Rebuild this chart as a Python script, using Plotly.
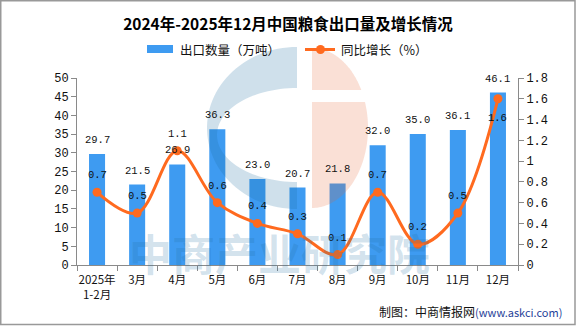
import numpy as np
import plotly.graph_objects as go

# ---- data ----
categories = ["2025年<br>1-2月", "3月", "4月", "5月", "6月", "7月",
              "8月", "9月", "10月", "11月", "12月"]
export_volume = [29.7, 21.5, 26.9, 36.3, 23.0, 20.7, 21.8, 32.0, 35.0, 36.1, 46.1]   # 万吨
yoy_growth = [0.7, 0.5, 1.1, 0.6, 0.4, 0.3, 0.1, 0.7, 0.2, 0.5, 1.6]                 # %

# ---- geometry / style ----
W, H = 576, 327
L, R, T, B = 77, 58, 78, 62
PW, PH = W - L - R, H - T - B

BAR_COLOR = "#3E9BF1"
LINE_COLOR = "#FF6A1F"
AXIS_COLOR = "#8A8A8A"
CJK = "Noto Sans CJK SC"
MONO = "Liberation Mono"


def px(x):
    """pixel x -> paper x"""
    return (x - L) / PW


def py(y):
    """pixel y (from top) -> paper y"""
    return (H - B - y) / PH


def poly_path(points):
    return "M " + " L ".join(f"{px(x):.5f},{py(y):.5f}" for x, y in points) + " Z"


def arc(cx, cy, rx, ry, t0, t1, n=60):
    t = np.radians(np.linspace(t0, t1, n))
    return list(zip(cx + rx * np.cos(t), cy - ry * np.sin(t)))


fig = go.Figure()

fig.add_trace(go.Bar(
    x=categories, y=export_volume, name="出口数量（万吨）",
    marker=dict(color=BAR_COLOR, line=dict(width=0)),
    showlegend=False,
))

fig.add_trace(go.Scatter(
    x=categories, y=yoy_growth, name="同比增长（%）", yaxis="y2",
    mode="lines+markers",
    line=dict(color=LINE_COLOR, width=3, shape="spline", smoothing=1),
    marker=dict(color=LINE_COLOR, size=9),
    showlegend=False, cliponaxis=False,
))

annotations = []

# value labels on bars
for c, v in zip(categories, export_volume):
    annotations.append(dict(
        x=c, y=v, xref="x", yref="y", text=f"{v:.1f}", showarrow=False,
        yshift=14, font=dict(family=MONO, size=10.5, color="#111"),
    ))

# value labels on the growth line (last one sits under its marker)
for i, (c, v) in enumerate(zip(categories, yoy_growth)):
    below = i == len(categories) - 1
    annotations.append(dict(
        x=c, y=v, xref="x", yref="y2", text=f"{v:.1f}", showarrow=False,
        yshift=-19 if below else 17, font=dict(family=MONO, size=10.5, color="#111"),
    ))

# legend texts
annotations += [
    dict(x=px(178), y=py(49.5), xref="paper", yref="paper", xanchor="left", yanchor="middle",
         text="出口数量（万吨）", showarrow=False, font=dict(family=CJK, size=12.5, color="#111")),
    dict(x=px(339), y=py(49.5), xref="paper", yref="paper", xanchor="left", yanchor="middle",
         text="同比增长（%）", showarrow=False, font=dict(family=CJK, size=12.5, color="#111")),
]

# watermark text
annotations.append(dict(
    x=px(279), y=py(252), xref="paper", yref="paper", xanchor="center", yanchor="middle",
    text="<b>中商产业研究院</b>", showarrow=False,
    font=dict(family=CJK, size=43, color="rgba(30,110,160,0.2)"),
))

# source note
annotations.append(dict(
    x=px(564), y=py(311), xref="paper", yref="paper", xanchor="right", yanchor="middle",
    text="制图：中商情报网<span style='font-size:11px;color:#1F3F99'>(www.askci.com)</span>",
    showarrow=False, font=dict(family=CJK, size=12, color="#111"),
))

shapes = []

# watermark logo: blue crescent + split pink half-disc
blue_pts = arc(297, 128, 90, 81, 90, 270) + arc(297, 135, 80, 47, 270, 90)
shapes.append(dict(type="path", xref="paper", yref="paper", layer="above",
                   path=poly_path(blue_pts), fillcolor="rgba(30,110,160,0.21)", line=dict(width=0)))
pcx, pcy, prx, pry = 312, 128, 56, 80
t_top = np.degrees(np.arcsin((pcy - 90) / pry))
t_bot = np.degrees(np.arcsin((pcy - 102) / pry))
pink_top = arc(pcx, pcy, prx, pry, t_top, 90) + [(pcx, 90)]
pink_bot = arc(pcx, pcy, prx, pry, -90, t_bot) + [(pcx, 102)]
for pts in (pink_top, pink_bot):
    shapes.append(dict(type="path", xref="paper", yref="paper", layer="above",
                       path=poly_path(pts), fillcolor="rgba(230,100,50,0.2)", line=dict(width=0)))

# legend swatches
shapes += [
    dict(type="rect", xref="paper", yref="paper", x0=px(147), x1=px(173), y0=py(45), y1=py(53),
         fillcolor=BAR_COLOR, line=dict(width=0)),
    dict(type="line", xref="paper", yref="paper", x0=px(305), x1=px(335), y0=py(49.5), y1=py(49.5),
         line=dict(color=LINE_COLOR, width=3)),
    dict(type="circle", xref="paper", yref="paper", x0=px(316), x1=px(325), y0=py(45), y1=py(54),
         fillcolor=LINE_COLOR, line=dict(width=0)),
]

# outer frame
shapes.append(dict(type="rect", xref="paper", yref="paper", x0=px(0.75), x1=px(575), y0=py(0.75),
                   y1=py(324.5), line=dict(color="#999", width=1.5), fillcolor="rgba(0,0,0,0)",
                   layer="above"))

axis_common = dict(
    showline=True, linecolor=AXIS_COLOR, linewidth=1,
    ticks="outside", ticklen=5, tickcolor=AXIS_COLOR, tickwidth=1,
    showgrid=False, zeroline=False,
)

fig.update_layout(
    width=W, height=H,
    margin=dict(l=L, r=R, t=T, b=B, pad=0),
    paper_bgcolor="white", plot_bgcolor="white",
    bargap=0.6,
    title=dict(text="<b>2024年-2025年12月中国粮食出口量及增长情况</b>",
               x=0.5, xanchor="center", y=1 - 25 / H, yanchor="middle",
               font=dict(family=CJK, size=15.5, color="#000")),
    xaxis=dict(type="category", range=[-0.5, 10.5], tickson="boundaries", tickangle=0,
               ticklabelstandoff=4,
               tickfont=dict(family=CJK, size=11.5, color="#111"), **axis_common),
    yaxis=dict(range=[0, 50], dtick=5, tickfont=dict(family=MONO, size=12, color="#111"),
               **axis_common),
    yaxis2=dict(range=[0, 1.8], dtick=0.2, overlaying="y", side="right",
                tickfont=dict(family=MONO, size=12, color="#111"), **axis_common),
    annotations=annotations,
    shapes=shapes,
    showlegend=False,
)

fig.write_html("out.html")
